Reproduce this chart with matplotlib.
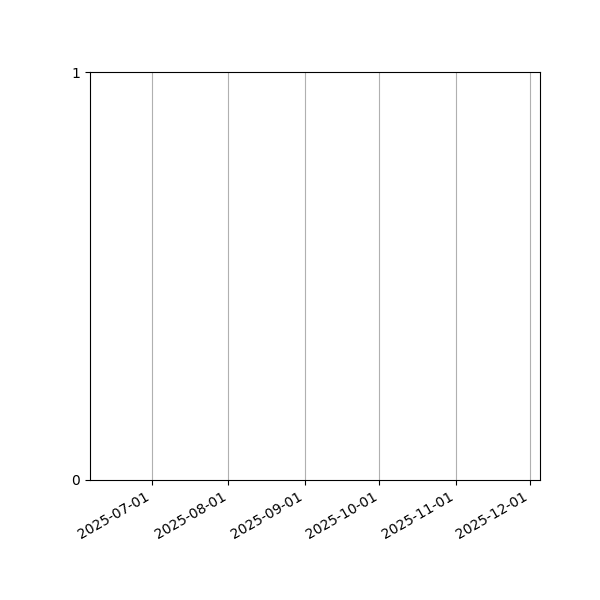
import numpy as np
import matplotlib
matplotlib.use("Agg")
import matplotlib.pyplot as plt
import matplotlib.dates as mdates

# date window shown on the x axis (no series drawn in the reference)
start_date = np.datetime64("2025-06-06")
end_date = np.datetime64("2025-12-05")
y_ticks = [0, 1]

fig, ax = plt.subplots(figsize=(6, 6), dpi=100)
ax.set_xlim(start_date, end_date)
ax.set_ylim(0, 1)
ax.set_yticks(y_ticks)
ax.xaxis.set_major_locator(mdates.MonthLocator())
ax.xaxis.set_major_formatter(mdates.DateFormatter("%Y-%m-%d"))
ax.grid(True, axis="x")
fig.autofmt_xdate()
fig.subplots_adjust(left=0.15, bottom=0.2)

fig.savefig("out.png")
